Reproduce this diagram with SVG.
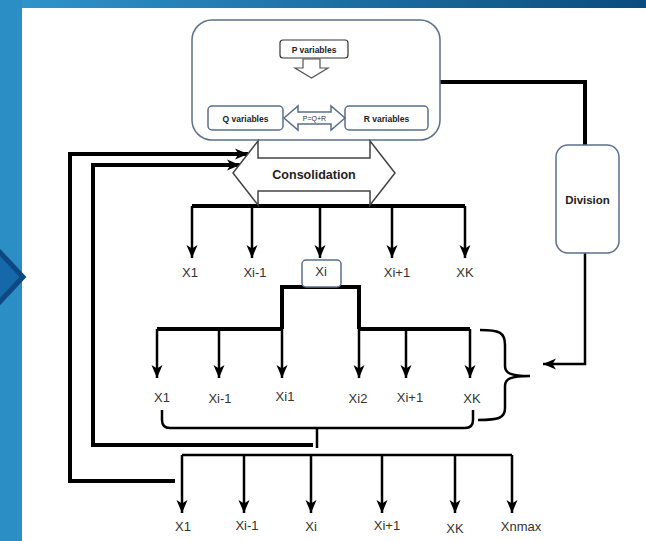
<svg xmlns="http://www.w3.org/2000/svg" width="646" height="541" viewBox="0 0 646 541">
<defs>
<linearGradient id="band" x1="0" y1="0" x2="1" y2="0">
<stop offset="0" stop-color="#3096cd"/>
<stop offset="1" stop-color="#0a4c7d"/>
</linearGradient>
<marker id="ah" markerUnits="userSpaceOnUse" markerWidth="14" markerHeight="14" viewBox="0 0 14 12" refX="13" refY="6" orient="auto">
<path d="M0,0.5 L13,6 L0,11.5 L3.5,6 z" fill="#000"/>
</marker>
<style>
.ln{fill:none;stroke:#000;stroke-width:2.5}
.thk{fill:none;stroke:#000;stroke-width:4}
.box{fill:#fff;stroke:#5b6f8c;stroke-width:1.5}
.lbl{font-family:"Liberation Sans",Arial,sans-serif;font-size:13px;fill:#333;text-anchor:middle}
.bt{font-family:"Liberation Sans",Arial,sans-serif;font-weight:bold;fill:#222;text-anchor:middle}
</style>
</defs>
<rect width="646" height="541" fill="#fff"/>
<rect x="0" y="0" width="646" height="8" fill="url(#band)"/>
<rect x="0" y="0" width="22" height="541" fill="#2b8ec5"/>
<polygon points="-6,246 23,277 -6,308" fill="#1668ab" stroke="#0e4883" stroke-width="5"/>

<g id="connectors">
<path class="ln" d="M311,77 H249 V106" marker-end="url(#ah)"/>
<path class="ln" d="M311,77 H383 V106" marker-end="url(#ah)"/>
<path class="thk" d="M440,82 H585 V145"/>
<path class="ln" d="M585,253 V364 H543" stroke-width="3" marker-end="url(#ah)"/>
<path class="thk" d="M192,206 H465" stroke-width="5"/>
<line class="ln" x1="192" y1="206" x2="192" y2="258" marker-end="url(#ah)"/>
<line class="ln" x1="252" y1="206" x2="252" y2="258" marker-end="url(#ah)"/>
<line class="ln" x1="320" y1="206" x2="320" y2="258" marker-end="url(#ah)"/>
<line class="ln" x1="392" y1="206" x2="392" y2="258" marker-end="url(#ah)"/>
<line class="ln" x1="465" y1="206" x2="465" y2="258" marker-end="url(#ah)"/>
<path class="thk" d="M282,329 V287 H359 V329" stroke-width="5"/>
<path class="thk" d="M157,329 H282 M359,329 H470"/>
<line class="ln" x1="157" y1="329" x2="157" y2="378" marker-end="url(#ah)"/>
<line class="ln" x1="219" y1="329" x2="219" y2="378" marker-end="url(#ah)"/>
<line class="ln" x1="282" y1="329" x2="282" y2="378" marker-end="url(#ah)"/>
<line class="ln" x1="359" y1="329" x2="359" y2="378" marker-end="url(#ah)"/>
<line class="ln" x1="406" y1="329" x2="406" y2="378" marker-end="url(#ah)"/>
<line class="ln" x1="470" y1="329" x2="470" y2="378" marker-end="url(#ah)"/>
<path class="ln" d="M480,330 C499,330 505,332 505,345 V366 C505,373 510,376 530,376 C510,376 505,379 505,386 V408 C505,418 499,420 478,420" stroke-width="3"/>
<path class="ln" d="M162,410 V420 Q162,428 170,428 H465 Q473,428 473,420 V410"/>
<path class="ln" d="M317,428 V448"/>
<path class="thk" d="M313,445 H93 V165 H240" marker-end="url(#ah)"/>
<path class="thk" d="M175,481 H70 V154 H248" marker-end="url(#ah)"/>
<path class="ln" d="M182,455 H512"/>
<line class="ln" x1="182" y1="455" x2="182" y2="513" marker-end="url(#ah)"/>
<line class="ln" x1="244" y1="455" x2="244" y2="513" marker-end="url(#ah)"/>
<line class="ln" x1="311" y1="455" x2="311" y2="513" marker-end="url(#ah)"/>
<line class="ln" x1="382" y1="455" x2="382" y2="513" marker-end="url(#ah)"/>
<line class="ln" x1="455" y1="455" x2="455" y2="513" marker-end="url(#ah)"/>
<line class="ln" x1="512" y1="455" x2="512" y2="513" marker-end="url(#ah)"/>
</g>

<g id="top-box">
<rect class="box" x="192" y="20" width="248" height="120" rx="20"/>
</g>
<g id="p-variables">
<rect x="280" y="40" width="68" height="18" rx="3" fill="#fff" stroke="#333" stroke-width="1.2"/>
<text class="bt" x="314" y="52.5" font-size="8.5">P variables</text>
<polygon points="303,59 320,59 320,68 328,68 311.5,78 295,68 303,68" fill="#fff" stroke="#555" stroke-width="1.2"/>
</g>
<g id="q-variables">
<rect class="box" x="208" y="106" width="75" height="24" rx="4" fill="#f5f9fd"/>
<text class="bt" x="245.5" y="121.5" font-size="8.5">Q variables</text>
</g>
<g id="r-variables">
<rect class="box" x="345" y="106" width="83" height="24" rx="4" fill="#f5f9fd"/>
<text class="bt" x="386.5" y="121.5" font-size="8.5">R variables</text>
</g>
<g id="pqr">
<polygon points="284,118 298,106 298,112 331,112 331,106 345,118 331,130 331,124 298,124 298,130" class="box"/>
<text x="314.5" y="120.5" font-family="Liberation Sans, Arial, sans-serif" font-size="7" fill="#333" text-anchor="middle">P=Q+R</text>
</g>
<g id="consolidation">
<polygon points="233,173 258,141 258,158 370,158 370,141 395,173 370,205 370,191 258,191 258,205" fill="#fff" stroke="#444" stroke-width="1.5"/>
<text class="bt" x="314" y="179" font-size="12.5">Consolidation</text>
</g>
<g id="division">
<rect class="box" x="556" y="145" width="63" height="108" rx="12"/>
<text class="bt" x="587.5" y="204" font-size="11.5">Division</text>
</g>
<g id="row1">
<text class="lbl" x="190" y="277">X1</text>
<text class="lbl" x="255" y="277">Xi-1</text>
<text class="lbl" x="397" y="277">Xi+1</text>
<text class="lbl" x="465" y="277">XK</text>
</g>
<g id="xi-box">
<rect class="box" x="302" y="260" width="39" height="27" rx="4"/>
<text class="lbl" x="321" y="276">Xi</text>
</g>
<g id="row2">
<text class="lbl" x="162" y="402">X1</text>
<text class="lbl" x="220" y="403">Xi-1</text>
<text class="lbl" x="285" y="401">Xi1</text>
<text class="lbl" x="358" y="403">Xi2</text>
<text class="lbl" x="410" y="402">Xi+1</text>
<text class="lbl" x="472" y="403">XK</text>
</g>
<g id="row3">
<text class="lbl" x="183" y="531">X1</text>
<text class="lbl" x="247" y="530">Xi-1</text>
<text class="lbl" x="311" y="531">Xi</text>
<text class="lbl" x="387" y="530">Xi+1</text>
<text class="lbl" x="455" y="533">XK</text>
<text class="lbl" x="521" y="531">Xnmax</text>
</g>
</svg>
